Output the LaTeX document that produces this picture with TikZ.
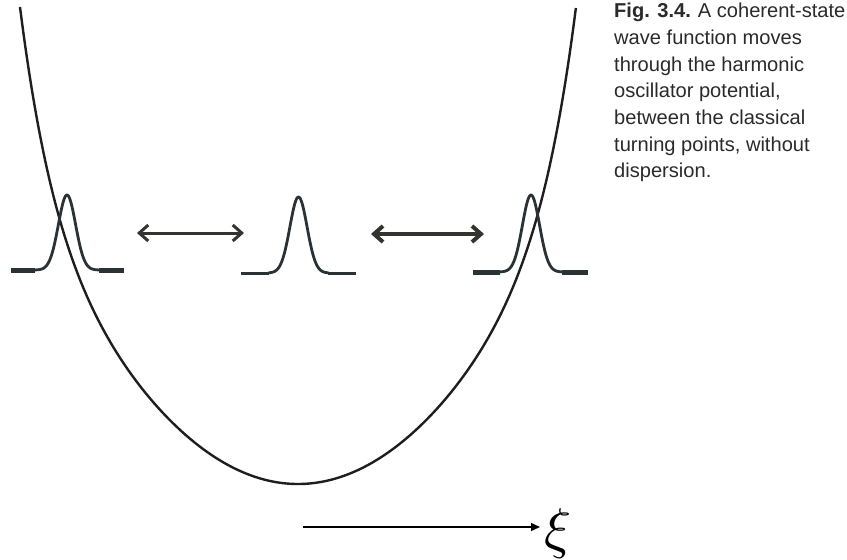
\documentclass[tikz,border=0pt]{standalone}
\usepackage{fontspec}
\setmainfont{Liberation Sans}
\usetikzlibrary{arrows.meta}
\definecolor{potcol}{HTML}{1E1E1E}
\definecolor{packcol}{HTML}{2B3235}
\definecolor{arrcol}{HTML}{33332F}
\definecolor{capcol}{HTML}{2A2A2A}
\tikzset{
  potline/.style={draw=potcol, line width=2.4pt},
  packline/.style={draw=packcol, line width=2.8pt, line join=round},
  packend/.style={draw=packcol, line width=5pt},
  packendthin/.style={draw=packcol, line width=3pt},
  swing/.style={draw=arrcol, line width=3pt, {Straight Barb[length=9pt,width=16pt]}-{Straight Barb[length=9pt,width=16pt]}},
  swingthick/.style={draw=arrcol, line width=4pt, {Straight Barb[length=9pt,width=16pt]}-{Straight Barb[length=9pt,width=16pt]}},
  axisline/.style={draw=black, line width=1.3pt, -{Triangle[length=9pt,width=8pt]}},
  caption/.style={anchor=north west, align=left, inner sep=0pt, text=capcol,
    font=\fontsize{20.1}{26.7}\selectfont}
}
\begin{document}
\begin{tikzpicture}[x=1pt,y=-1pt]
\useasboundingbox (0,0) rectangle (847,560);
% potential
\draw[potline] plot[domain=-1:1, samples=241, smooth]
  ({298+278*\x}, {484 - 300*\x*\x - 177*(\x*\x)*(\x*\x)*(\x*\x)*(\x*\x)*abs(\x)});
% left packet
\draw[packline] plot[domain=-32:32, samples=81, smooth] ({67+\x}, {270 - 75*exp(-(\x*\x)/(2*8.6*8.6))});
\draw[packend] (11,270) -- (35,270);
\draw[packend] (99,270) -- (124,270);
% center packet
\draw[packline] plot[domain=-30:30, samples=81, smooth] ({298.5+\x}, {273 - 76*exp(-(\x*\x)/(2*8.6*8.6))});
\draw[packendthin] (241,273) -- (269,273);
\draw[packendthin] (328,273) -- (356,273);
% right packet
\draw[packline] plot[domain=-31:31, samples=81, smooth] ({531+\x}, {272 - 77*exp(-(\x*\x)/(2*8.6*8.6))});
\draw[packend] (473,272) -- (500,272);
\draw[packend] (562,272) -- (588,272);
% oscillation arrows
\coordinate (aL) at (137,233);
\coordinate (aR) at (244,233);
\coordinate (bL) at (371,234);
\coordinate (bR) at (484,234);
\draw[swing] (aL) -- (aR);
\draw[swingthick] (bL) -- (bR);
% axis
\node[anchor=base west, inner sep=0pt, scale=5.6] (xi) at (543,547) {$\xi$};
\coordinate (axstart) at (303,527);
\coordinate (axend) at (540,527);
\draw[axisline] (axstart) -- (axend);
% caption
\node[caption] (cap) at (614,3) {\textbf{Fig. 3.4.}\hspace{7pt}A coherent-state\\wave function moves\\through the harmonic\\oscillator potential,\\between the classical\\turning points, without\\dispersion.};
\end{tikzpicture}
\end{document}
